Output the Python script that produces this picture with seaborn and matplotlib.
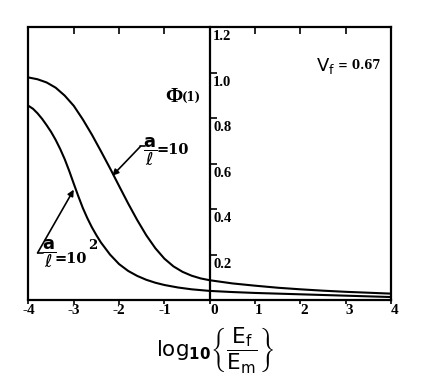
import numpy as np
import pandas as pd
import matplotlib
matplotlib.use("Agg")
import matplotlib.pyplot as plt
import seaborn as sns
from matplotlib.transforms import ScaledTranslation

# ---- data ----
x_ratio10 = [-4.0, -3.8, -3.6, -3.4, -3.2, -3.0, -2.8, -2.6, -2.4, -2.2, -2.0,
             -1.8, -1.6, -1.4, -1.2, -1.0, -0.8, -0.6, -0.4, -0.2, 0.0, 0.5,
             1.0, 1.5, 2.0, 2.5, 3.0, 3.5, 4.0]
phi_ratio10 = [0.980, 0.972, 0.958, 0.935, 0.900, 0.855, 0.795, 0.728, 0.655,
               0.580, 0.502, 0.425, 0.352, 0.285, 0.228, 0.182, 0.148, 0.124,
               0.107, 0.095, 0.087, 0.073, 0.063, 0.054, 0.047, 0.041, 0.036,
               0.032, 0.028]
x_ratio100 = [-4.0, -3.9, -3.8, -3.7, -3.6, -3.5, -3.4, -3.3, -3.2, -3.1, -3.0,
              -2.9, -2.8, -2.7, -2.6, -2.5, -2.4, -2.2, -2.0, -1.8, -1.6, -1.4,
              -1.2, -1.0, -0.7, -0.4, 0.0, 0.5, 1.0, 2.0, 3.0, 4.0]
phi_ratio100 = [0.855, 0.842, 0.822, 0.798, 0.770, 0.740, 0.705, 0.665, 0.620,
                0.568, 0.512, 0.457, 0.405, 0.360, 0.320, 0.285, 0.253, 0.200,
                0.158, 0.128, 0.106, 0.089, 0.076, 0.066, 0.055, 0.047, 0.040,
                0.035, 0.031, 0.025, 0.019, 0.013]
series_names = ["a/l=10", "a/l=10^2"]
x_ticks = [-4, -3, -2, -1, 0, 1, 2, 3, 4]
x_tick_labels = ["-4", "-3", "-2", "-1", "0", "1", "2", "3", "4"]
y_ticks = [0.2, 0.4, 0.6, 0.8, 1.0, 1.2]
y_tick_labels = ["0.2", "0.4", "0.6", "0.8", "1.0", "1.2"]

df = pd.concat([
    pd.DataFrame({"x": x_ratio10, "phi": phi_ratio10, "series": series_names[0]}),
    pd.DataFrame({"x": x_ratio100, "phi": phi_ratio100, "series": series_names[1]}),
], ignore_index=True)

sns.set_theme(style="white")
plt.rcParams["font.family"] = ["Liberation Serif", "DejaVu Sans"]
plt.rcParams["mathtext.fontset"] = "dejavusans"

fig = plt.figure(figsize=(4.38, 3.9), dpi=100)
ax = fig.add_axes([0.065, 0.2308, 0.8276, 0.6987])

sns.lineplot(data=df, x="x", y="phi", hue="series", palette=["black", "black"],
             estimator=None, sort=False, lw=1.5, legend=False, ax=ax)

ax.set_xlim(-4, 4)
ax.set_ylim(0, 1.2)
ax.set_ylabel("")

for s in ax.spines.values():
    s.set_color("black")
    s.set_linewidth(1.6)
ax.spines["left"].set_position(("data", 0))
ax.axvline(-4, color="black", lw=1.6, clip_on=False)

# x ticks: inward at top, labels at bottom
ax.set_xticks(x_ticks, x_tick_labels)
ax.tick_params(axis="x", direction="in", length=5, width=1.2, pad=3,
               labelsize=11, colors="black", top=True, bottom=False,
               labelbottom=True)
for tick_val, lab in zip(x_ticks, ax.get_xticklabels()):
    lab.set_fontweight("bold")
    if tick_val >= 0:
        lab.set_transform(lab.get_transform() + ScaledTranslation(4 / 100, 0, fig.dpi_scale_trans))

# short outward ticks at the bottom
secb = ax.secondary_xaxis("bottom")
secb.set_xticks(x_ticks)
secb.tick_params(axis="x", direction="out", length=3, width=1.2,
                 labelbottom=False, colors="black")
secb.spines["bottom"].set_visible(False)

# y ticks on the x=0 line, labels to the right
ax.set_yticks(y_ticks, y_tick_labels)
ax.tick_params(axis="y", direction="in", length=5, width=1.2, pad=-2.5,
               labelsize=10.5, colors="black", left=True)
for lab in ax.get_yticklabels():
    lab.set_fontweight("bold")
    lab.set_horizontalalignment("left")
    lab.set_verticalalignment("top")
    lab.set_transform(lab.get_transform() + ScaledTranslation(0, -3 / 100, fig.dpi_scale_trans))

# Phi(1) label
ax.text(-0.79, 0.894, "Φ", fontsize=15, fontweight="bold", ha="center",
        va="center", color="black")
ax.text(-0.62, 0.892, "(1)", family="DejaVu Serif", fontsize=8.5,
        fontweight="bold", ha="left", va="center", color="black")

# V_f label
ax.text(2.35, 1.009, r"V$_\mathregular{f}$", family="DejaVu Sans", fontsize=13,
        ha="left", va="baseline", color="black")
ax.text(2.83, 1.018, "= 0.67", family="DejaVu Serif", fontsize=8.5,
        fontweight="bold", ha="left", va="baseline", color="black")

# annotation a/l = 10
ax.text(-1.31, 0.655, r"$\dfrac{\mathbf{a}}{\ell}$", fontsize=13, ha="center",
        va="center", color="black")
ax.text(-1.18, 0.644, "=10", family="DejaVu Serif", fontsize=10.5,
        fontweight="bold", ha="left", va="baseline", color="black")
ax.plot([-1.53, -1.42], [0.676, 0.676], color="black", lw=1.2)
ax.annotate("", xy=(-2.15, 0.547), xytext=(-1.53, 0.676),
            arrowprops=dict(arrowstyle="-|>", color="black", lw=1.2,
                            mutation_scale=9, shrinkA=0, shrinkB=0))

# annotation a/l = 10^2
ax.text(-3.55, 0.205, r"$\dfrac{\mathbf{a}}{\ell}$", fontsize=13, ha="center",
        va="center", color="black")
ax.text(-3.42, 0.165, "=10", family="DejaVu Serif", fontsize=10.5,
        fontweight="bold", ha="left", va="baseline", color="black")
ax.text(-2.68, 0.225, "2", family="DejaVu Serif", fontsize=9.5,
        fontweight="bold", ha="left", va="baseline", color="black")
ax.plot([-3.80, -3.68], [0.207, 0.207], color="black", lw=1.2)
ax.annotate("", xy=(-3.0, 0.486), xytext=(-3.80, 0.207),
            arrowprops=dict(arrowstyle="-|>", color="black", lw=1.2,
                            mutation_scale=9, shrinkA=0, shrinkB=0))

ax.set_xlabel(r"$\mathregular{log}_{\mathbf{10}}\left\{\dfrac{\mathregular{E_f}}{\mathregular{E_m}}\right\}$",
              family="DejaVu Sans", fontsize=15.5, color="black")
ax.xaxis.set_label_coords(0.514, -0.09)

fig.savefig("out.png", dpi=100, facecolor="white")
